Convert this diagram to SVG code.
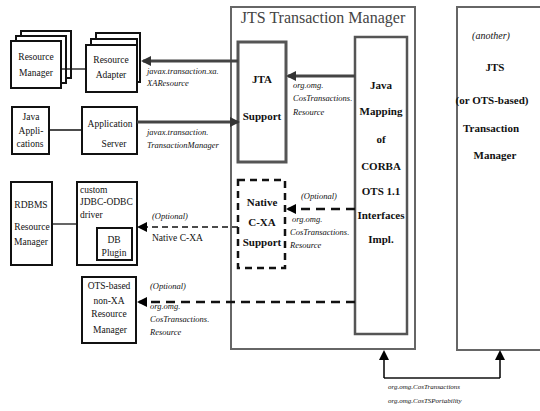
<svg xmlns="http://www.w3.org/2000/svg" width="540" height="411" viewBox="0 0 540 411" font-family="'Liberation Serif','DejaVu Serif','Times New Roman',serif">
<style>
text{font-family:'Liberation Serif','DejaVu Serif','Times New Roman',serif;fill:#111}
.n{font-size:9.5px}
.b{font-size:11px;font-weight:bold}
.i{font-size:8.5px;font-style:italic;fill:#444}
.bx{fill:#fff;stroke:#111;stroke-width:2}
.gx{fill:none;stroke:#555;stroke-width:2.5}
.thin{stroke:#111;stroke-width:1.3;fill:none}
</style>
<defs>
<marker id="ah" markerWidth="10" markerHeight="10" refX="8" refY="5" orient="auto" markerUnits="userSpaceOnUse"><path d="M0,0 L10,5 L0,10 z" fill="#333"/></marker>
<marker id="ahk" markerWidth="10" markerHeight="10" refX="8" refY="5" orient="auto" markerUnits="userSpaceOnUse"><path d="M0,0 L10,5 L0,10 z" fill="#000"/></marker>
</defs>
<rect width="540" height="411" fill="#fff"/>

<g id="jts-tm">
<rect x="231" y="7" width="184" height="342" fill="none" stroke="#666" stroke-width="2"/>
<text x="323" y="23" font-size="16" text-anchor="middle" style="fill:#444">JTS Transaction Manager</text>
</g>
<g id="java-mapping">
<rect x="355" y="37" width="52" height="297" class="gx"/>
<g class="b" text-anchor="middle" font-size="10.5">
<text x="381" y="89">Java</text>
<text x="381" y="115">Mapping</text>
<text x="381" y="143">of</text>
<text x="381" y="170">CORBA</text>
<text x="381" y="195">OTS 1.1</text>
<text x="381" y="219">Interfaces</text>
<text x="381" y="243">Impl.</text>
</g>
</g>
<g id="jta-support">
<rect x="238" y="42" width="48" height="120" fill="none" stroke="#555" stroke-width="3"/>
<text x="262" y="83" class="b" text-anchor="middle" font-size="12">JTA</text>
<text x="262" y="120" class="b" text-anchor="middle" font-size="11.5">Support</text>
</g>
<g id="native-cxa">
<rect x="238" y="180" width="47" height="88" fill="none" stroke="#111" stroke-width="2.5" stroke-dasharray="7,5"/>
<g class="b" text-anchor="middle" font-size="11.5">
<text x="262" y="206">Native</text>
<text x="262" y="226">C-XA</text>
<text x="262" y="246">Support</text>
</g>
</g>
<g id="another-jts">
<rect x="457" y="7" width="90" height="343" fill="none" stroke="#666" stroke-width="2"/>
<text x="491" y="39" font-size="10" font-style="italic" text-anchor="middle">(another)</text>
<g class="b" text-anchor="middle" font-size="11.5">
<text x="495" y="71">JTS</text>
<text x="492" y="104">(or OTS-based)</text>
<text x="491" y="132">Transaction</text>
<text x="495" y="159">Manager</text>
</g>
</g>

<g id="resource-manager">
<rect x="21" y="31" width="50" height="47" class="bx"/>
<rect x="16" y="36" width="50" height="47" class="bx"/>
<rect x="11" y="41" width="50" height="47" class="bx"/>
<text x="36" y="60" class="n" text-anchor="middle">Resource</text>
<text x="36" y="76" class="n" text-anchor="middle">Manager</text>
</g>
<g id="resource-adapter">
<rect x="96" y="33" width="44" height="49" class="bx"/>
<rect x="91" y="39" width="46" height="49" class="bx"/>
<rect x="86" y="45" width="51" height="47" class="bx"/>
<text x="111" y="63" class="n" text-anchor="middle">Resource</text>
<text x="111" y="78" class="n" text-anchor="middle">Adapter</text>
</g>
<g id="java-apps">
<rect x="12" y="107" width="37" height="47" class="bx"/>
<text x="31" y="120" class="n" text-anchor="middle">Java</text>
<text x="31" y="134" class="n" text-anchor="middle">Appli-</text>
<text x="30" y="147" class="n" text-anchor="middle">cations</text>
</g>
<g id="app-server">
<rect x="82" y="107" width="55" height="47" class="bx"/>
<text x="110" y="127" class="n" text-anchor="middle">Application</text>
<text x="114" y="147" class="n" text-anchor="middle">Server</text>
</g>
<g id="rdbms">
<rect x="11" y="182" width="41" height="83" class="bx"/>
<text x="31" y="208" class="n" text-anchor="middle">RDBMS</text>
<text x="32" y="230" class="n" text-anchor="middle">Resource</text>
<text x="31" y="245" class="n" text-anchor="middle">Manager</text>
</g>
<g id="jdbc-driver">
<rect x="77" y="182" width="60" height="83" class="bx"/>
<text x="80" y="193" class="n">custom</text>
<text x="80" y="205" class="n">JDBC-ODBC</text>
<text x="80" y="218" class="n">driver</text>
<rect x="97" y="228" width="35" height="32" class="bx"/>
<text x="114" y="243" class="n" text-anchor="middle" font-size="10.5">DB</text>
<text x="114" y="256" class="n" text-anchor="middle">Plugin</text>
</g>
<g id="ots-nonxa">
<rect x="82" y="277" width="54" height="66" class="bx"/>
<g class="n" text-anchor="middle">
<text x="109" y="289">OTS-based</text>
<text x="109" y="304">non-XA</text>
<text x="109" y="317">Resource</text>
<text x="110" y="333">Manager</text>
</g>
</g>

<g id="connectors">
<line x1="61" y1="69" x2="86" y2="69" class="thin"/>
<line x1="49" y1="130" x2="82" y2="130" class="thin"/>
<line x1="52" y1="224" x2="77" y2="224" class="thin"/>
<line x1="238" y1="61" x2="143" y2="61" stroke="#444" stroke-width="3" marker-end="url(#ah)"/>
<line x1="137" y1="122" x2="238" y2="122" stroke="#444" stroke-width="3" marker-end="url(#ah)"/>
<line x1="355" y1="76" x2="288" y2="76" stroke="#444" stroke-width="3" marker-end="url(#ah)"/>
<line x1="355" y1="209" x2="288" y2="209" stroke="#111" stroke-width="2.5" stroke-dasharray="9,6" marker-end="url(#ahk)"/>
<line x1="238" y1="227" x2="139" y2="227" stroke="#111" stroke-width="1.3" stroke-dasharray="6,4" marker-end="url(#ahk)"/>
<line x1="355" y1="302" x2="139" y2="302" stroke="#111" stroke-width="2.5" stroke-dasharray="9,6" marker-end="url(#ahk)"/>
<polyline points="384,378 500,378" class="thin"/>
<line x1="384" y1="378" x2="384" y2="352" stroke="#000" stroke-width="1.5" marker-end="url(#ahk)"/>
<line x1="500" y1="378" x2="500" y2="352" stroke="#000" stroke-width="1.5" marker-end="url(#ahk)"/>
<g class="i">
<text x="147" y="74">javax.transaction.xa.</text>
<text x="147" y="86">XAResource</text>
<text x="147" y="135">javax.transaction.</text>
<text x="147" y="148">TransactionManager</text>
<text x="293" y="88">org.omg.</text>
<text x="293" y="101">CosTransactions.</text>
<text x="293" y="115">Resource</text>
<text x="301" y="199">(Optional)</text>
<text x="292" y="222">org.omg.</text>
<text x="290" y="235">CosTransactions.</text>
<text x="290" y="248">Resource</text>
<text x="152" y="219">(Optional)</text>
<text x="150" y="289">(Optional)</text>
<text x="150" y="309">org.omg.</text>
<text x="150" y="322">CosTransactions.</text>
<text x="150" y="335">Resource</text>
<text x="388" y="389" font-size="7">org.omg.CosTransactions</text>
<text x="388" y="403" font-size="7">org.omg.CosTSPortability</text>
</g>
<text x="152" y="241" class="n">Native C-XA</text>
</g>
</svg>
